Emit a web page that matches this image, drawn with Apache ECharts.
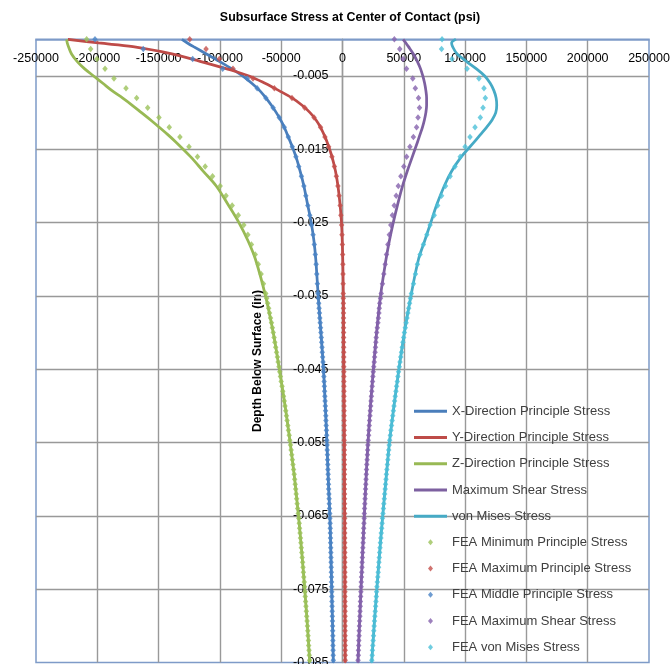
<!DOCTYPE html>
<html>
<head>
<meta charset="utf-8">
<title>Subsurface Stress at Center of Contact</title>
<script src="https://cdn.jsdelivr.net/npm/echarts@6/dist/echarts.min.js"></script>
<style>
  html, body { margin: 0; padding: 0; background: #fff; }
  #chart { width: 672px; height: 664px; }
</style>
</head>
<body>
<div id="chart"></div>
<script>
// Depth below the surface (in) for the analytical curves
const depthLine = [0, -0.0005, -0.001, -0.002, -0.003, -0.004, -0.005, -0.006, -0.007, -0.008,
  -0.009, -0.010, -0.011, -0.012, -0.013, -0.014, -0.016, -0.018, -0.020, -0.0225,
  -0.025, -0.0275, -0.030, -0.035, -0.040, -0.045, -0.050, -0.055, -0.060, -0.065,
  -0.070, -0.075, -0.080, -0.085];

// Analytical stresses (psi)
const xDirStress = [-131000, -126500, -121500, -111000, -100500, -90500, -81500, -74000, -67500, -62500,
  -58000, -54000, -50500, -47500, -45000, -42500, -38000, -34500, -31500, -28500,
  -25500, -23300, -21800, -19800, -17600, -15500, -14000, -12700, -11600, -10300,
  -9500, -8800, -8100, -7500];
const yDirStress = [-224000, -199000, -170900, -139100, -116200, -95000, -76300, -63200, -51800, -41200,
  -33000, -26500, -21600, -17900, -15100, -12600, -8600, -5700, -3700, -2000,
  -800, -200, 200, 700, 900, 1100, 1300, 1500, 1600, 1800,
  1900, 2000, 2100, 2200];
const zDirStress = [-225000, -224500, -223500, -221000, -216500, -210500, -203000, -195500, -188000, -179500,
  -171500, -164000, -156500, -149500, -142500, -136000, -124000, -113500, -103000, -93500,
  -84500, -77000, -71000, -62800, -56500, -51500, -46800, -42700, -39000, -35900,
  -33200, -30800, -28600, -26700];
const maxShearStress = [49400, 51700, 53800, 57800, 61000, 63600, 65500, 67000, 68000, 68600,
  68600, 68000, 66800, 65200, 63200, 61200, 57000, 52800, 49000, 45000,
  41400, 38200, 35500, 31000, 27800, 25200, 22800, 20800, 19200, 17800,
  16400, 15100, 13800, 12600];
const vonMisesStress = [92500, 89000, 89800, 93500, 101000, 109000, 116000, 120500, 123500, 125300,
  125800, 125000, 122000, 117500, 112500, 107500, 97000, 89000, 83000, 77000,
  72000, 67000, 62000, 55800, 50500, 46000, 42000, 38300, 35500, 32800,
  30300, 28000, 25800, 23800];

// Depths of the FEA result nodes (in): coarse near the surface, finer below
const depthFEA = [
  0, -0.00133, -0.00267, -0.004, -0.00533, -0.00667, -0.008, -0.00933, -0.01067, -0.012,
  -0.01333, -0.01467, -0.016, -0.01733, -0.01867, -0.02, -0.02133, -0.02267, -0.024, -0.02533,
  -0.02667, -0.028, -0.02933, -0.03067, -0.032, -0.03333, -0.03467,
  -0.03533, -0.036, -0.03667, -0.03733, -0.038, -0.03867, -0.03933, -0.04, -0.04067, -0.04133, -0.042, -0.04267, -0.04333, -0.044, -0.04467,
  -0.04533, -0.046, -0.04667, -0.04733, -0.048, -0.04867, -0.04933, -0.05, -0.05067, -0.05133, -0.052, -0.05267, -0.05333, -0.054, -0.05467,
  -0.05533, -0.056, -0.05667, -0.05733, -0.058, -0.05867, -0.05933, -0.06, -0.06067, -0.06133, -0.062, -0.06267, -0.06333, -0.064, -0.06467,
  -0.06533, -0.066, -0.06667, -0.06733, -0.068, -0.06867, -0.06933, -0.07, -0.07067, -0.07133, -0.072, -0.07267, -0.07333, -0.074, -0.07467,
  -0.07533, -0.076, -0.07667, -0.07733, -0.078, -0.07867, -0.07933, -0.08, -0.08067, -0.08133, -0.082, -0.08267, -0.08333, -0.084, -0.08467];

// FEA stresses (psi)
const feaMinPrinciple = [
  -208700, -205400, -200300, -193700, -186400, -176600, -167900, -158900, -149700, -141300,
  -132600, -125200, -118300, -112000, -106000, -99800, -95000, -90000, -85000, -80500,
  -77200, -74300, -71200, -68700, -66400, -64500, -62600,
  -61800, -61000, -60200, -59500, -58700, -57900, -57200, -56500, -55800, -55200, -54500, -53800, -53100, -52500, -51800,
  -51200, -50600, -50000, -49300, -48700, -48100, -47500, -46900, -46300, -45700, -45200, -44600, -44100, -43500, -43000,
  -42400, -41900, -41400, -40900, -40400, -39900, -39400, -39000, -38600, -38200, -37800, -37400, -37000, -36600, -36100,
  -35700, -35300, -35000, -34600, -34300, -33900, -33600, -33200, -32900, -32500, -32200, -31900, -31600, -31200, -30900,
  -30600, -30400, -30100, -29800, -29500, -29200, -28900, -28600, -28300, -28100, -27800, -27600, -27300, -27100, -26800];
const feaMaxPrinciple = [
  -124600, -111300, -100500, -89300, -73000, -55600, -41200, -30800, -23200, -17900,
  -14300, -11300, -8600, -6600, -5000, -3700, -2800, -1900, -1300, -700,
  -400, -100, 100, 300, 400, 500, 600,
  650, 700, 750, 800, 800, 800, 850, 900, 900, 900, 950, 1000, 1000, 1000, 1050,
  1100, 1100, 1100, 1150, 1200, 1200, 1200, 1250, 1300, 1300, 1300, 1350, 1400, 1400, 1400,
  1450, 1500, 1500, 1500, 1550, 1600, 1600, 1600, 1600, 1600, 1650, 1700, 1700, 1700, 1750,
  1800, 1800, 1800, 1800, 1800, 1850, 1900, 1900, 1900, 1900, 1900, 1950, 2000, 2000, 2000,
  2000, 2000, 2050, 2100, 2100, 2100, 2100, 2100, 2100, 2100, 2150, 2200, 2200, 2200, 2200];
const feaMidPrinciple = [
  -201900, -162500, -122200, -97700, -77700, -69600, -62500, -56600, -51600, -47500,
  -44200, -41000, -38000, -35700, -33500, -31500, -29900, -28300, -26700, -25200,
  -24000, -23000, -22200, -21500, -21000, -20500, -20000,
  -19700, -19400, -19100, -18800, -18500, -18200, -17900, -17600, -17300, -17000, -16700, -16500, -16200, -15900, -15600,
  -15400, -15200, -15000, -14800, -14600, -14400, -14200, -14000, -13800, -13600, -13500, -13300, -13100, -12900, -12800,
  -12600, -12500, -12300, -12200, -12000, -11900, -11700, -11600, -11400, -11300, -11100, -10900, -10800, -10600, -10400,
  -10300, -10100, -10000, -9900, -9800, -9700, -9600, -9500, -9400, -9300, -9200, -9100, -9000, -8900, -8800,
  -8750, -8700, -8600, -8500, -8400, -8300, -8200, -8100, -8000, -7900, -7850, -7800, -7700, -7600, -7500];
const feaMaxShear = [
  42300, 46700, 49400, 52200, 57300, 59400, 62000, 62800, 61600, 60400,
  57800, 55000, 52300, 50000, 47600, 45500, 43800, 42200, 40700, 39400,
  38200, 37000, 35900, 34800, 33700, 32600, 31600,
  31000, 30400, 30000, 29700, 29300, 28900, 28400, 27900, 27500, 27200, 26900, 26600, 26200, 25900, 25500,
  25100, 24800, 24500, 24200, 23900, 23600, 23300, 23000, 22700, 22400, 22100, 21800, 21600, 21300, 21000,
  20700, 20500, 20300, 20100, 19800, 19600, 19400, 19200, 19000, 18800, 18600, 18400, 18200, 18000, 17800,
  17700, 17500, 17300, 17100, 17000, 16800, 16600, 16400, 16200, 16000, 15900, 15700, 15500, 15300, 15200,
  15000, 14800, 14600, 14500, 14300, 14200, 14000, 13800, 13600, 13500, 13300, 13200, 13000, 12900, 12700];
const feaVonMises = [
  81200, 80800, 89300, 101600, 111300, 115400, 116500, 114600, 112400, 108100,
  104000, 100000, 96000, 91800, 87800, 84000, 80800, 77600, 74800, 71400,
  68800, 66000, 63300, 61100, 59500, 57900, 56200,
  55400, 54700, 54000, 53300, 52600, 51900, 51200, 50500, 49900, 49300, 48700, 48100, 47500, 46900, 46300,
  45700, 45200, 44700, 44100, 43600, 43000, 42500, 42000, 41500, 41000, 40500, 40000, 39500, 39000, 38500,
  38100, 37700, 37300, 37000, 36600, 36200, 35800, 35500, 35100, 34800, 34400, 34100, 33700, 33400, 33000,
  32600, 32300, 32000, 31600, 31300, 30900, 30600, 30300, 30000, 29700, 29400, 29100, 28800, 28400, 28100,
  27800, 27600, 27300, 27000, 26700, 26400, 26100, 25800, 25500, 25300, 25000, 24700, 24400, 24200, 23900];

// Stress axis ticks (psi)
const stressMin = -250000, stressMax = 250000, stressStep = 50000;
// Depth axis ticks (in)
const depthMin = -0.085, depthMax = 0, depthStep = 0.01;

const FONT = "'Liberation Sans', Arial, sans-serif";
const GRID_GRAY = '#999999';
const FRAME_BLUE = '#7E9BC8';

// Plot frame in pixels
const PLOT = { left: 36, top: 39.3, width: 613, height: 623.3 };
// The depth axis sits on the zero-stress line, halfway across the plot
const depthAxisOffset = -PLOT.width * (0 - stressMin) / (stressMax - stressMin);

// Legend marker for the FEA series: a small diamond centred in a 33x6 box
const SMALL_DIAMOND = 'path://M0,0M33,6M14,3L16.5,0L19,3L16.5,6Z';

function pairs(xs, ys) { return xs.map((x, i) => [x, ys[i]]); }

const lineDefs = [
  { name: 'X-Direction Principle Stress', values: xDirStress, color: '#4A7EBB' },
  { name: 'Y-Direction Principle Stress', values: yDirStress, color: '#BE4B48' },
  { name: 'Z-Direction Principle Stress', values: zDirStress, color: '#98B954' },
  { name: 'Maximum Shear Stress', values: maxShearStress, color: '#7D60A0' },
  { name: 'von Mises Stress', values: vonMisesStress, color: '#46AAC5' }
];
const pointDefs = [
  { name: 'FEA Minimum Principle Stress', values: feaMinPrinciple, color: '#9BC25A' },
  { name: 'FEA Maximum Principle Stress', values: feaMaxPrinciple, color: '#C4504C' },
  { name: 'FEA Middle Principle Stress', values: feaMidPrinciple, color: '#4A83C6' },
  { name: 'FEA Maximum Shear Stress', values: feaMaxShear, color: '#8462AC' },
  { name: 'FEA von Mises Stress', values: feaVonMises, color: '#4CC0D8' }
];

const series = [];
lineDefs.forEach(d => series.push({
  type: 'line',
  name: d.name,
  data: pairs(d.values, depthLine),
  smooth: 0.35,
  symbol: 'none',
  lineStyle: { color: d.color, width: 2.75 },
  itemStyle: { color: d.color },
  z: 2
}));
pointDefs.forEach(d => series.push({
  type: 'scatter',
  name: d.name,
  data: pairs(d.values, depthFEA),
  symbol: 'diamond',
  symbolSize: [5.5, 6.5],
  itemStyle: { color: d.color },
  z: 3
}));

const legendText = { fontSize: 13, fontFamily: FONT, color: '#404040', lineHeight: 26.3 };

const chart = echarts.init(document.getElementById('chart'), null, { renderer: 'canvas' });
chart.setOption({
  animation: false,
  backgroundColor: '#ffffff',
  grid: {
    left: PLOT.left, top: PLOT.top, width: PLOT.width, height: PLOT.height,
    containLabel: false, outerBoundsMode: 'none',
    show: true, borderColor: FRAME_BLUE, borderWidth: 1.5, backgroundColor: 'transparent'
  },
  xAxis: {
    type: 'value', position: 'top',
    min: stressMin, max: stressMax, interval: stressStep,
    axisLine: { show: true, onZero: false, lineStyle: { color: FRAME_BLUE, width: 1.5 } },
    axisTick: { show: false },
    axisLabel: { inside: true, margin: 12.5, fontSize: 12.5, fontFamily: FONT, color: '#000',
      formatter: v => String(v) },
    splitLine: { show: true, showMinLine: false, showMaxLine: false, lineStyle: { color: GRID_GRAY, width: 1.4 } }
  },
  yAxis: {
    type: 'value', position: 'left', offset: depthAxisOffset,
    min: depthMin, max: depthMax, interval: depthStep,
    axisLine: { show: true, onZero: false, lineStyle: { color: GRID_GRAY, width: 1.4 } },
    axisTick: { show: false },
    axisLabel: {
      margin: 14, fontSize: 12.5, fontFamily: FONT, color: '#000',
      showMaxLabel: false,
      formatter: v => v.toFixed(3)
    },
    splitLine: { show: true, showMinLine: false, showMaxLine: false, lineStyle: { color: GRID_GRAY, width: 1.4 } }
  },
  legend: [
    {
      orient: 'vertical',
      left: 414, top: 398, padding: 0,
      itemWidth: 33, itemHeight: 3, itemGap: 0,
      icon: 'rect',
      selectedMode: false,
      textStyle: legendText,
      data: lineDefs.map(d => d.name)
    },
    {
      orient: 'vertical',
      left: 414, top: 529, padding: 0,
      itemWidth: 33, itemHeight: 6, itemGap: 0,
      icon: SMALL_DIAMOND,
      selectedMode: false,
      textStyle: legendText,
      data: pointDefs.map(d => d.name)
    }
  ],
  graphic: [
    {
      type: 'text', x: 350, y: 18,
      style: {
        text: 'Subsurface Stress at Center of Contact (psi)',
        font: 'bold 12.4px ' + FONT, fill: '#000', align: 'center', verticalAlign: 'middle'
      }
    },
    {
      type: 'text', x: 258, y: 361, rotation: Math.PI / 2,
      style: {
        text: 'Depth Below Surface (in)',
        font: 'bold 12px ' + FONT, fill: '#000', align: 'center', verticalAlign: 'middle'
      }
    }
  ],
  series: series
});
</script>
</body>
</html>
